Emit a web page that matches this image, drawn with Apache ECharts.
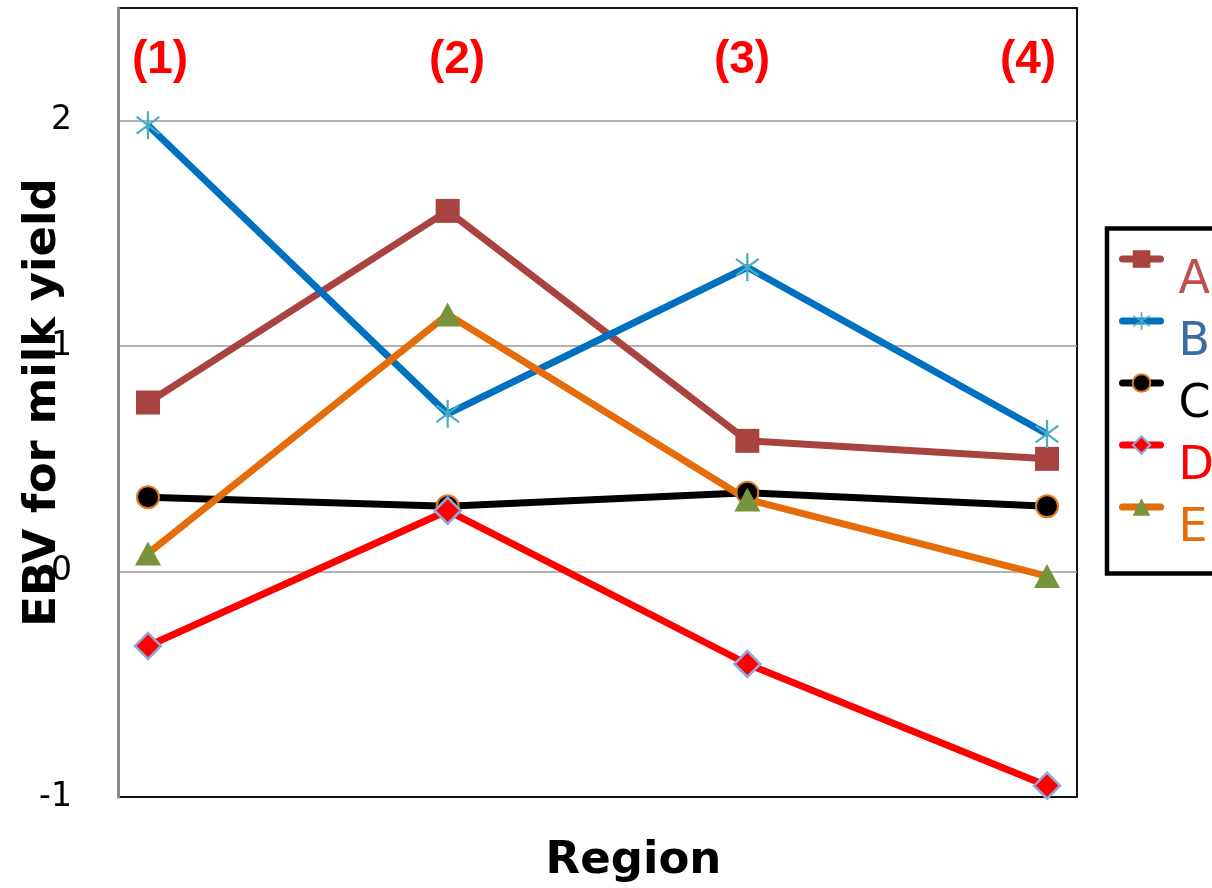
<!DOCTYPE html>
<html>
<head>
<meta charset="utf-8">
<title>EBV for milk yield by region</title>
<script src="https://cdn.jsdelivr.net/npm/echarts@6/dist/echarts.min.js"></script>
<style>
  html, body { margin: 0; padding: 0; background: #fff; }
  #chart { width: 1212px; height: 888px; }
</style>
</head>
<body>
<div id="chart"></div>
<script>
// region labels and their position on the x scale
var regionLabels = ['(1)', '(2)', '(3)', '(4)'];
var regionPos = [0, 1, 2, 3];

// EBV values per line
var seriesNames = ['A', 'B', 'C', 'D', 'E'];
var valuesA = [0.75, 1.60, 0.58, 0.50];
var valuesB = [1.98, 0.70, 1.35, 0.61];
var valuesC = [0.33, 0.29, 0.35, 0.29];
var valuesD = [-0.33, 0.27, -0.41, -0.95];
var valuesE = [0.08, 1.14, 0.32, -0.02];

// y axis ticks
var yTicks = [-1, 0, 1, 2];

// asterisk marker (vertical bar + two diagonals)
var starPath = 'path://M46 0L54 0L54 100L46 100Z' +
  'M12.4 16.8L92.4 76.8L87.6 83.2L7.6 23.2Z' +
  'M7.6 76.8L87.6 16.8L92.4 23.2L12.4 83.2Z';

function pairs(vals) {
  var out = [];
  for (var i = 0; i < vals.length; i++) {
    out.push([regionPos[i], vals[i]]);
  }
  return out;
}

function lineSeries(name, vals, lineColor, symbol, size, fill, border, borderWidth) {
  return {
    name: name,
    type: 'line',
    data: pairs(vals),
    symbol: symbol,
    symbolSize: size,
    showAllSymbol: true,
    lineStyle: { color: lineColor, width: 7 },
    itemStyle: { color: fill, borderColor: border || fill, borderWidth: borderWidth || 0 },
    emphasis: { disabled: true },
    animation: false
  };
}

// plain frame axis (top / right edges of the plot)
function frameAxis(position, min, max) {
  return {
    type: 'value',
    position: position,
    min: min,
    max: max,
    axisLine: { show: true, onZero: false, lineStyle: { color: '#111', width: 2 } },
    axisTick: { show: false },
    axisLabel: { show: false },
    splitLine: { show: false }
  };
}

var chart = echarts.init(document.getElementById('chart'));

var legendColors = ['#C0504D', '#3D6BA6', '#000000', '#FF0000', '#E46C0A'];
var legendRich = {};
seriesNames.forEach(function (n, i) {
  legendRich['s' + i] = {
    color: legendColors[i],
    fontFamily: 'DejaVu Sans',
    fontSize: 46,
    lineHeight: 46,
    padding: [44, 0, 0, 13]
  };
});

var regionTextX = [160, 457, 742, 1028];
var regionTexts = regionLabels.map(function (t, i) {
  return {
    type: 'text',
    x: regionTextX[i],
    y: 60,
    style: {
      text: t,
      fill: '#FF0000',
      font: 'bold 46px "Liberation Sans", Arial, sans-serif',
      align: 'center',
      verticalAlign: 'middle'
    }
  };
});

chart.setOption({
  backgroundColor: '#fff',
  animation: false,
  grid: {
    left: 118, right: 135, top: 8, bottom: 91,
    outerBoundsMode: 'none',
    containLabel: false
  },
  xAxis: [{
    type: 'value',
    min: -0.1,
    max: 3.1,
    name: 'Region',
    nameLocation: 'middle',
    nameGap: 42,
    nameMoveOverlap: false,
    nameTextStyle: {
      fontFamily: 'DejaVu Sans', fontWeight: 'bold', fontSize: 45, color: '#000',
      padding: [0, 0, 0, 72]
    },
    axisLine: { show: true, onZero: false, lineStyle: { color: '#111', width: 2 } },
    axisTick: { show: false },
    axisLabel: { show: false },
    splitLine: { show: false }
  }, frameAxis('top', -0.1, 3.1)],
  yAxis: [{
    type: 'value',
    position: 'left',
    min: yTicks[0],
    max: 2.5,
    interval: 1,
    name: 'EBV for milk yield',
    nameLocation: 'middle',
    nameGap: 52,
    nameMoveOverlap: false,
    nameTextStyle: {
      fontFamily: 'DejaVu Sans', fontWeight: 'bold', fontSize: 45, color: '#000'
    },
    axisLine: { show: true, onZero: false, lineStyle: { color: '#888', width: 3 } },
    axisTick: { show: false },
    axisLabel: {
      margin: 46,
      fontFamily: 'DejaVu Sans', fontSize: 33, color: '#000',
      showMaxLabel: false,
      formatter: function (v) { return yTicks.indexOf(v) >= 0 ? String(v) : ''; }
    },
    splitLine: {
      show: true, showMinLine: false, showMaxLine: false,
      lineStyle: { color: '#999', width: 1.5 }
    },
    z: 3
  }, frameAxis('right', yTicks[0], 2.5)],
  legend: {
    orient: 'vertical',
    left: 1119,
    top: 214,
    padding: 0,
    itemWidth: 38,
    itemHeight: 22,
    itemGap: -28,
    selectedMode: false,
    data: seriesNames,
    lineStyle: { width: 7, cap: 'round' },
    formatter: function (name) {
      return '{s' + seriesNames.indexOf(name) + '|' + name + '}';
    },
    textStyle: {
      fontFamily: 'DejaVu Sans',
      fontSize: 46,
      rich: legendRich
    }
  },
  graphic: regionTexts.concat([{
    type: 'rect',
    shape: { x: 1107, y: 228.5, width: 150, height: 345 },
    style: { fill: 'transparent', stroke: '#000', lineWidth: 4.5 },
    z: 10
  }]),
  series: [
    lineSeries('A', valuesA, '#A8433F', 'rect', 24, '#A8433F'),
    lineSeries('B', valuesB, '#0070C0', starPath, [24, 28], '#4BACC6'),
    lineSeries('C', valuesC, '#000000', 'circle', 22, '#000000', '#E07B28', 2),
    lineSeries('D', valuesD, '#FF0000', 'diamond', 26, '#FF0000', '#8EA9DB', 2.5),
    lineSeries('E', valuesE, '#E46C0A', 'triangle', [26, 24], '#77933C')
  ]
});
</script>
</body>
</html>
